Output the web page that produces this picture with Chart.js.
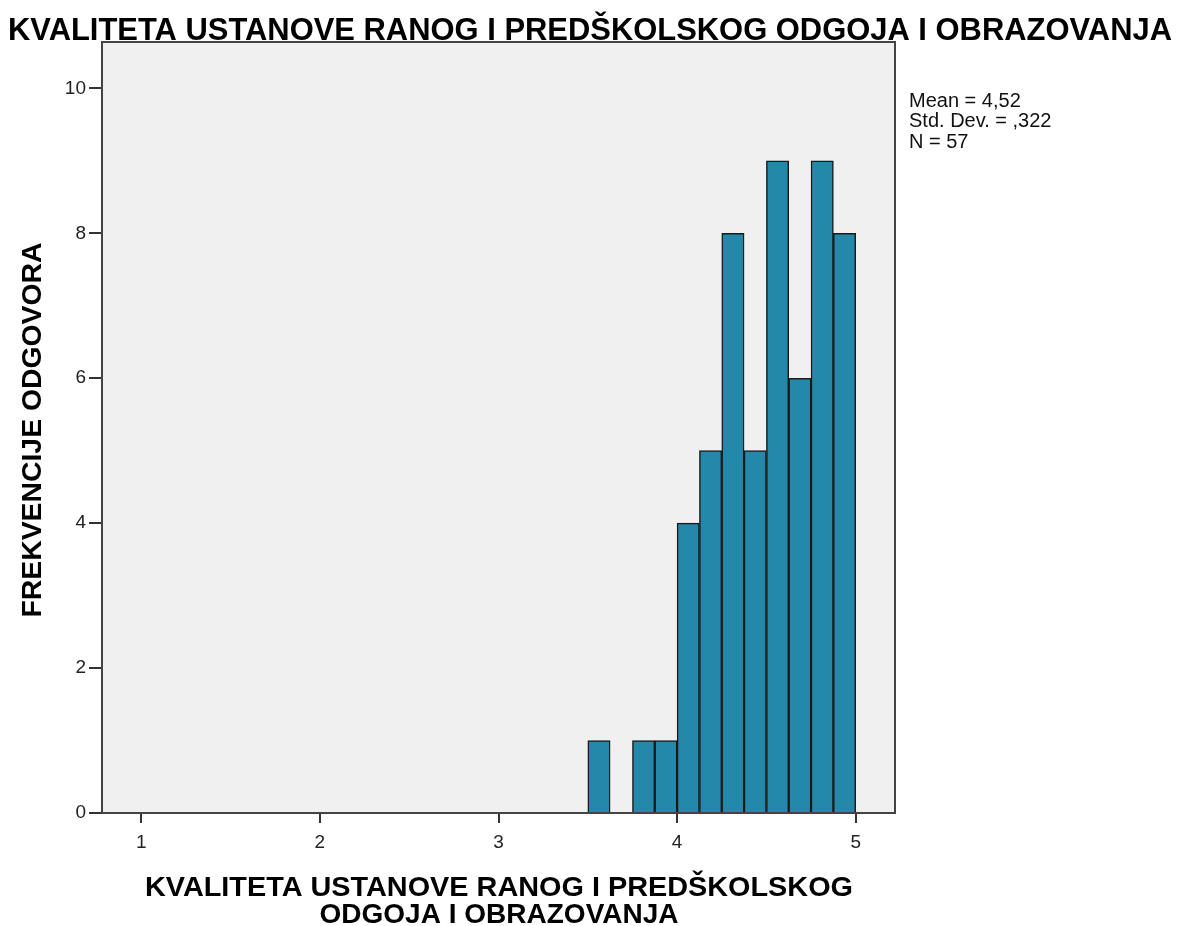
<!DOCTYPE html>
<html>
<head>
<meta charset="utf-8">
<script src="https://cdn.jsdelivr.net/npm/chart.js@4/dist/chart.umd.min.js"></script>
<style>
  html, body { margin: 0; padding: 0; background: #fff; }
  #wrap { width: 1181px; height: 926px; }
</style>
</head>
<body>
<div id="wrap"><canvas id="myChart" width="1181" height="926"></canvas></div>
<script>
// histogram bins (width 0.125), only non-empty ones
const binStarts = [3.5, 3.75, 3.875, 4.0, 4.125, 4.25, 4.375, 4.5, 4.625, 4.75, 4.875];
const counts = [1, 1, 1, 4, 5, 8, 5, 9, 6, 9, 8];
const binWidth = 0.125;

const chartTitle = 'KVALITETA USTANOVE RANOG I PREDŠKOLSKOG ODGOJA I OBRAZOVANJA';
const yTitle = 'FREKVENCIJE ODGOVORA';
const xTitleLines = ['KVALITETA USTANOVE RANOG I PREDŠKOLSKOG', 'ODGOJA I OBRAZOVANJA'];
const statLines = ['Mean = 4,52', 'Std. Dev. = ,322', 'N = 57'];

const FONT = '"Liberation Sans", Arial, sans-serif';

function fitText(ctx, text, x, y, font, width, angle) {
    ctx.save();
    ctx.font = font;
    const w = ctx.measureText(text).width;
    ctx.translate(x, y);
    if (angle) ctx.rotate(angle);
    ctx.scale(width / w, 1);
    ctx.textAlign = 'center';
    ctx.textBaseline = 'middle';
    ctx.fillStyle = '#000';
    ctx.fillText(text, 0, 0);
    ctx.restore();
}

const decorPlugin = {
    id: 'decor',
    beforeDraw(chart) {
        const { ctx, chartArea: a } = chart;
        ctx.save();
        ctx.fillStyle = '#fff';
        ctx.fillRect(0, 0, chart.width, chart.height);
        ctx.fillStyle = '#f0f0f0';
        ctx.fillRect(a.left, a.top, a.right - a.left, a.bottom - a.top);
        ctx.restore();
    },
    afterDraw(chart) {
        const { ctx, chartArea: a } = chart;
        ctx.save();
        ctx.strokeStyle = '#444';
        ctx.lineWidth = 2;
        ctx.strokeRect(a.left, a.top, a.right - a.left, a.bottom - a.top);
        ctx.restore();

        fitText(ctx, chartTitle, 590, 31, 'bold 31px ' + FONT, 1164);
        fitText(ctx, yTitle, 33, 430, 'bold 28px ' + FONT, 375, -Math.PI / 2);
        fitText(ctx, xTitleLines[0], 499, 888, 'bold 28px ' + FONT, 708);
        fitText(ctx, xTitleLines[1], 499, 915, 'bold 28px ' + FONT, 359);

        ctx.save();
        ctx.font = '20px ' + FONT;
        ctx.fillStyle = '#111';
        ctx.textAlign = 'left';
        ctx.textBaseline = 'middle';
        statLines.forEach((s, i) => ctx.fillText(s, 909, 101 + i * 20.5));
        ctx.restore();
    }
};

const data = {
    datasets: [{
        label: 'Frekvencija',
        data: binStarts.map((b, i) => ({ x: b + binWidth / 2, y: counts[i] })),
        backgroundColor: '#2488ab',
        borderColor: '#1a1a1a',
        borderWidth: 1.5,
        borderSkipped: 'bottom',
        barPercentage: 1,
        categoryPercentage: 1
    }]
};

const myChart = new Chart(document.getElementById('myChart').getContext('2d'), {
    type: 'bar',
    data: data,
    options: {
        responsive: false,
        animation: false,
        layout: { padding: { top: 42, right: 286, bottom: 0, left: 0 } },
        plugins: { legend: { display: false }, tooltip: { enabled: false } },
        scales: {
            x: {
                type: 'linear',
                min: 0.78,
                max: 5.22,
                offset: false,
                grid: { offset: false, drawOnChartArea: false, tickLength: 10, color: '#333', lineWidth: 2 },
                border: { display: true, color: '#333', width: 2 },
                ticks: { stepSize: 1, includeBounds: false, color: '#222', padding: 8, font: { family: FONT, size: 19 } },
                afterFit(s) { s.height = 113; }
            },
            y: {
                min: 0,
                max: 10.64,
                grid: { drawOnChartArea: false, tickLength: 13, color: '#333', lineWidth: 2 },
                border: { display: true, color: '#333', width: 2 },
                ticks: { stepSize: 2, includeBounds: false, color: '#222', padding: 3, font: { family: FONT, size: 19 } },
                afterFit(s) { s.width = 102; }
            }
        }
    },
    plugins: [decorPlugin]
});
</script>
</body>
</html>
